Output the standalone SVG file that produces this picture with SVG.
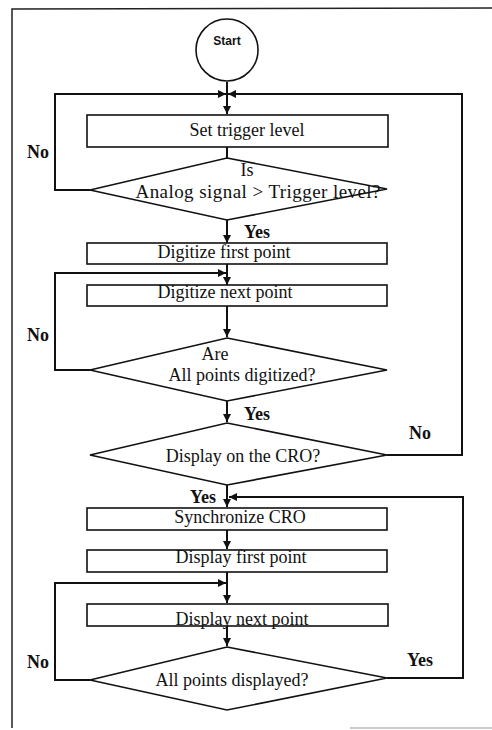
<svg xmlns="http://www.w3.org/2000/svg" width="492" height="730" viewBox="0 0 492 730">
<defs>
<style>
.frame{fill:none;stroke:#222;stroke-width:1.5}
.box{fill:#fff;stroke:#111;stroke-width:1.6}
.dia{fill:#fff;stroke:#111;stroke-width:1.6}
.ln{fill:none;stroke:#111;stroke-width:2}
.t{font-family:"Liberation Serif","Times New Roman",serif;font-size:18px;fill:#111;text-anchor:middle}
.lbl{font-family:"Liberation Serif","Times New Roman",serif;font-size:18px;font-weight:bold;fill:#111;text-anchor:middle}
.st{font-family:"Liberation Sans",Arial,sans-serif;font-size:12px;font-weight:bold;fill:#111;text-anchor:middle}
</style>
<marker id="ah" viewBox="0 0 10 10" refX="10" refY="5" markerWidth="9" markerHeight="8" markerUnits="userSpaceOnUse" orient="auto">
<path d="M0,0 L10,5 L0,10 z" fill="#111"/>
</marker>
</defs>
<rect width="492" height="730" fill="#fff"/>
<g id="frame">
<path class="frame" d="M492,8 L12,9 L12,728"/>
<path d="M350,728 L492,728" stroke="#bbb" stroke-width="1.5"/>
</g>
<g id="connectors">
<path class="ln" d="M227,82 L227,114" marker-end="url(#ah)"/>
<path class="ln" d="M90,190 L55,190 L55,94 L226,94" marker-end="url(#ah)"/>
<path class="ln" d="M387,455 L462,455 L462,94 L228,94" marker-end="url(#ah)"/>
<path class="ln" d="M227,147 L227,158"/>
<path class="ln" d="M227,220 L227,243" marker-end="url(#ah)"/>
<path class="ln" d="M227,264 L227,285" marker-end="url(#ah)"/>
<path class="ln" d="M90,370 L55,370 L55,273 L226,273" marker-end="url(#ah)"/>
<path class="ln" d="M227,306 L227,337" marker-end="url(#ah)"/>
<path class="ln" d="M227,401 L227,422" marker-end="url(#ah)"/>
<path class="ln" d="M227,485 L227,507" marker-end="url(#ah)"/>
<path class="ln" d="M387,678 L463,678 L463,497 L229,497" marker-end="url(#ah)"/>
<path class="ln" d="M227,530 L227,549" marker-end="url(#ah)"/>
<path class="ln" d="M227,572 L227,603" marker-end="url(#ah)"/>
<path class="ln" d="M90,680 L55,680 L55,583 L226,583" marker-end="url(#ah)"/>
<path class="ln" d="M227,626 L227,646" marker-end="url(#ah)"/>
</g>
<g id="start">
<circle cx="227" cy="50" r="31" fill="#fff" stroke="#111" stroke-width="1.6"/>
<text class="st" x="227" y="45">Start</text>
</g>
<g id="set-trigger">
<rect class="box" x="87" y="115" width="301" height="32"/>
<text class="t" x="247" y="136">Set trigger level</text>
</g>
<g id="is-analog">
<polygon class="dia" points="227,158 387,189 227,220 90,190"/>
<text class="t" x="247" y="176">Is</text>
<text class="t" x="258" y="198" style="font-size:19px" textLength="245" lengthAdjust="spacing">Analog signal &gt; Trigger level?</text>
</g>
<g id="digitize-first">
<rect class="box" x="87" y="243" width="300" height="21"/>
<text class="t" x="224" y="258">Digitize first point</text>
</g>
<g id="digitize-next">
<rect class="box" x="87" y="285" width="300" height="21"/>
<text class="t" x="225" y="298">Digitize next point</text>
</g>
<g id="all-digitized">
<polygon class="dia" points="227,338 387,370 227,401 90,370"/>
<text class="t" x="215" y="360">Are</text>
<text class="t" x="242" y="381">All points digitized?</text>
</g>
<g id="display-cro">
<polygon class="dia" points="227,423 387,455 227,485 90,455"/>
<text class="t" x="243" y="462">Display on the CRO?</text>
</g>
<g id="synchronize">
<rect class="box" x="87" y="508" width="300" height="22"/>
<text class="t" x="240" y="523">Synchronize CRO</text>
</g>
<g id="display-first">
<rect class="box" x="87" y="550" width="300" height="22"/>
<text class="t" x="241" y="563">Display first point</text>
</g>
<g id="display-next">
<rect class="box" x="87" y="604" width="301" height="22"/>
<text class="t" x="242" y="625">Display next point</text>
</g>
<g id="all-displayed">
<polygon class="dia" points="227,647 387,678 227,710 90,680"/>
<text class="t" x="232" y="686">All points displayed?</text>
</g>
<g id="labels">
<text class="lbl" x="38" y="158">No</text>
<text class="lbl" x="257" y="238">Yes</text>
<text class="lbl" x="38" y="341">No</text>
<text class="lbl" x="257" y="420">Yes</text>
<text class="lbl" x="420" y="439">No</text>
<text class="lbl" x="203" y="503">Yes</text>
<text class="lbl" x="38" y="668">No</text>
<text class="lbl" x="420" y="666">Yes</text>
</g>
</svg>
